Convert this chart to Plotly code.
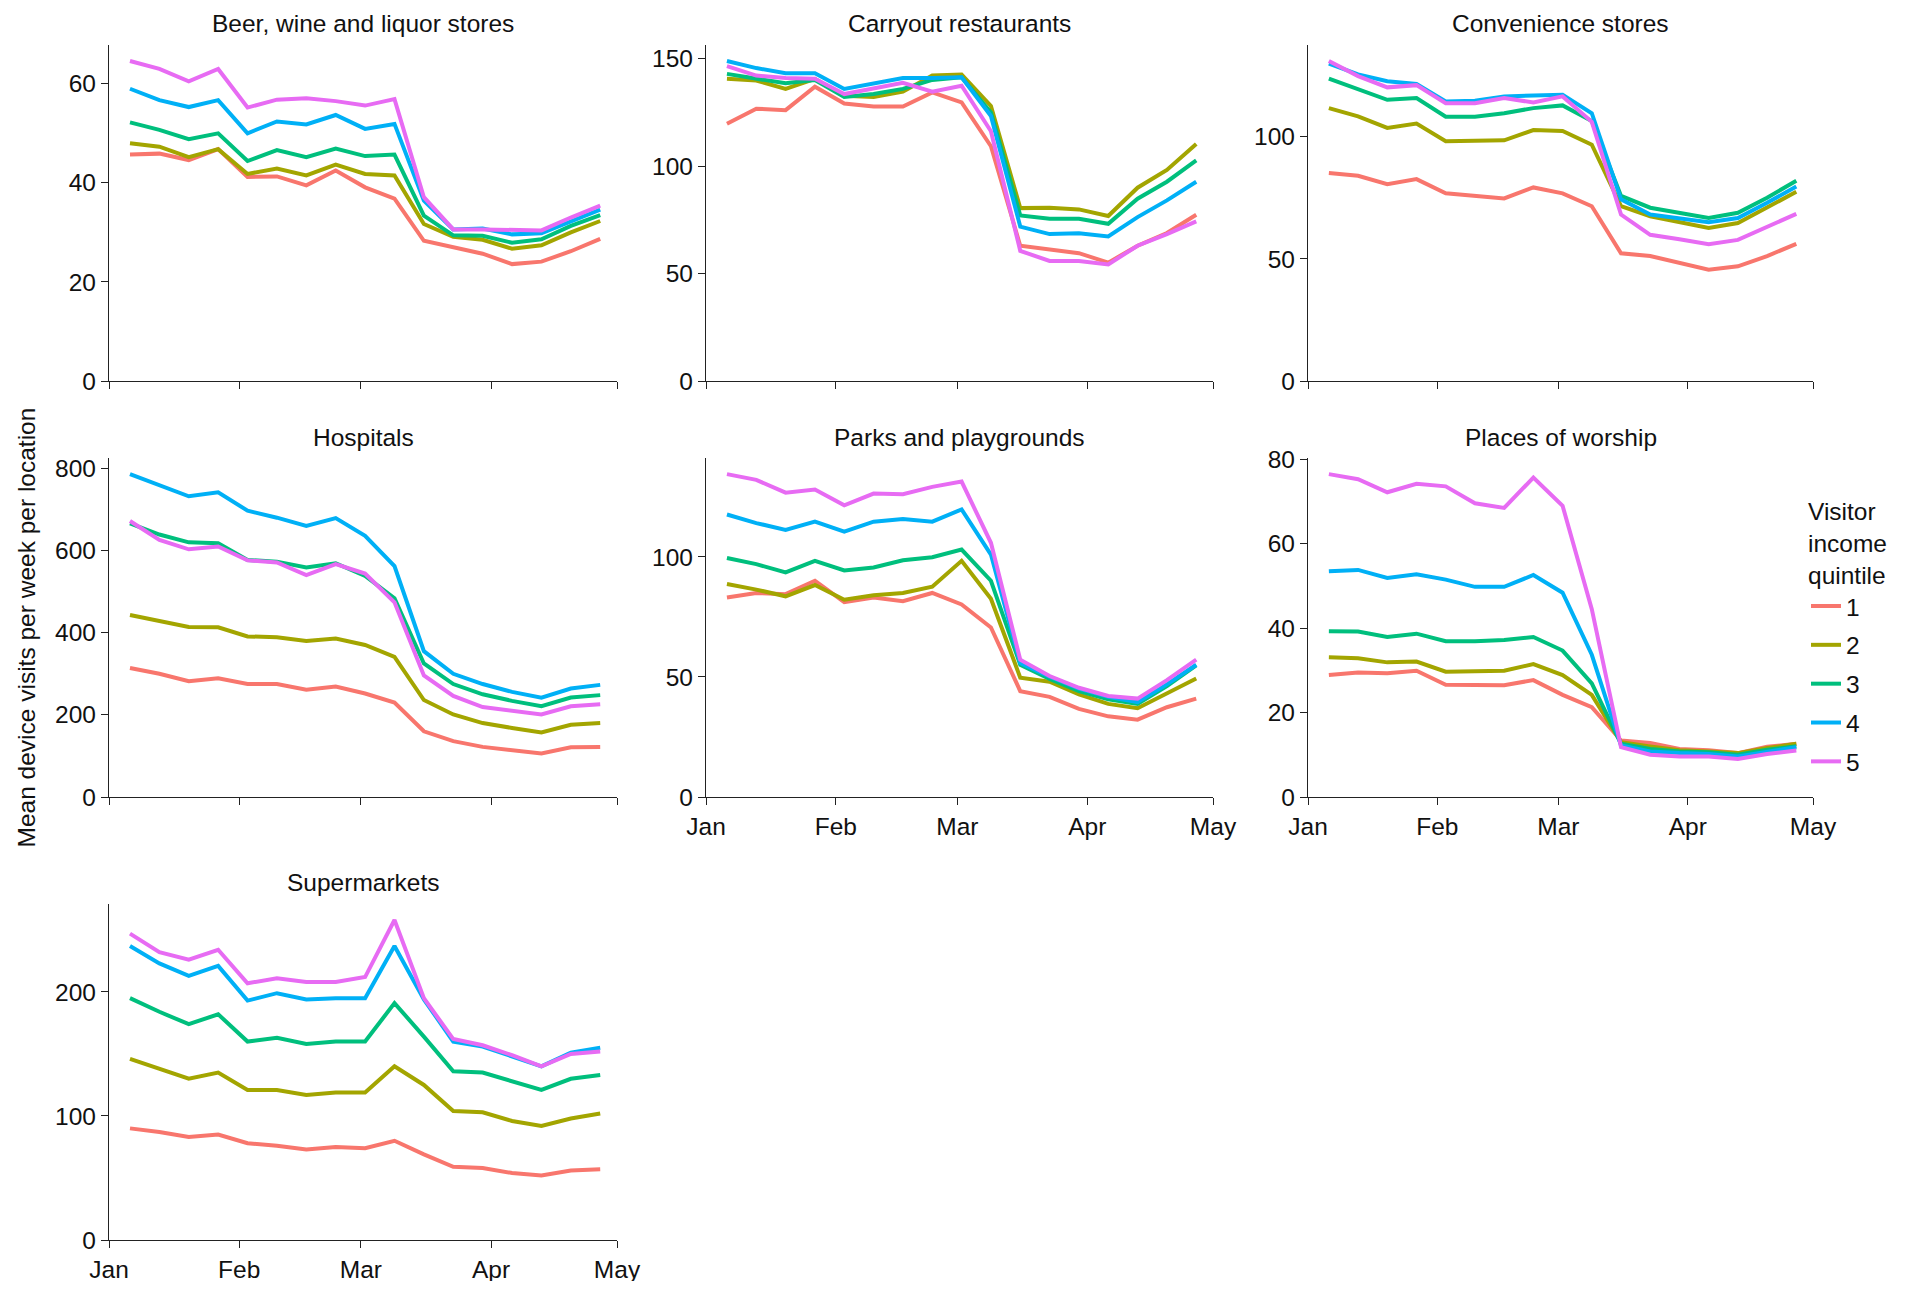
import plotly.graph_objects as go

weeks = ["2020-01-06", "2020-01-13", "2020-01-20", "2020-01-27", "2020-02-03",
         "2020-02-10", "2020-02-17", "2020-02-24", "2020-03-02", "2020-03-09",
         "2020-03-16", "2020-03-23", "2020-03-30", "2020-04-06", "2020-04-13",
         "2020-04-20", "2020-04-27"]
quintiles = ["1", "2", "3", "4", "5"]
colors = ["#F8766D", "#A3A500", "#00BF7D", "#00B0F6", "#E76BF3"]
month_ticks = ["2020-01-01", "2020-02-01", "2020-03-01", "2020-04-01", "2020-05-01"]
month_labels = ["Jan", "Feb", "Mar", "Apr", "May"]

panel_titles = ["Beer, wine and liquor stores", "Carryout restaurants", "Convenience stores",
                "Hospitals", "Parks and playgrounds", "Places of worship", "Supermarkets"]

# each: quintile 1..5
beer = [
    [45.7, 45.9, 44.6, 46.8, 41.2, 41.3, 39.5, 42.5, 39.1, 36.8, 28.3, 26.9, 25.7, 23.6, 24.1, 26.2, 28.7],
    [48.0, 47.3, 45.2, 46.8, 41.8, 42.9, 41.5, 43.7, 41.8, 41.5, 31.7, 29.1, 28.5, 26.7, 27.4, 30.0, 32.3],
    [52.2, 50.7, 48.8, 50.0, 44.4, 46.6, 45.2, 46.9, 45.4, 45.7, 33.4, 29.4, 29.3, 27.9, 28.6, 31.3, 33.5],
    [59.0, 56.7, 55.3, 56.7, 50.0, 52.4, 51.8, 53.7, 50.9, 51.9, 36.4, 30.6, 30.8, 29.6, 29.8, 32.3, 34.6],
    [64.6, 63.0, 60.5, 63.0, 55.2, 56.8, 57.1, 56.5, 55.6, 56.9, 37.1, 30.6, 30.6, 30.4, 30.4, 33.0, 35.4],
]
carryout = [
    [119.8, 126.8, 126.1, 137.0, 129.2, 127.8, 127.8, 134.4, 129.7, 109.3, 63.0, 61.1, 59.5, 55.1, 63.0, 68.9, 77.4],
    [140.7, 139.9, 136.0, 140.7, 132.8, 132.3, 134.7, 142.2, 142.7, 128.1, 80.5, 80.7, 79.9, 76.8, 90.0, 98.3, 110.4],
    [143.0, 141.0, 138.6, 140.2, 132.3, 133.6, 136.0, 140.2, 141.4, 125.0, 77.1, 75.5, 75.5, 73.2, 84.9, 92.8, 102.7],
    [149.0, 145.7, 143.3, 143.3, 136.0, 138.6, 141.1, 141.1, 141.4, 123.4, 71.9, 68.4, 68.8, 67.3, 76.3, 84.1, 92.8],
    [146.6, 142.2, 141.1, 140.7, 133.6, 136.0, 138.8, 134.7, 137.5, 116.3, 60.6, 55.9, 55.9, 54.3, 63.0, 68.4, 74.3],
]
convenience = [
    [85.2, 84.1, 80.6, 82.7, 76.9, 75.8, 74.8, 79.3, 76.9, 71.6, 52.3, 51.2, 48.4, 45.6, 47.0, 51.2, 56.2],
    [111.8, 108.4, 103.7, 105.5, 98.2, 98.2, 98.6, 102.8, 102.4, 96.8, 71.6, 67.5, 65.0, 62.7, 64.7, 71.0, 77.5],
    [123.9, 119.4, 115.2, 115.9, 108.3, 108.3, 109.7, 111.8, 112.9, 106.5, 75.8, 71.0, 68.9, 66.8, 68.9, 75.1, 82.0],
    [130.0, 125.6, 122.8, 121.7, 114.5, 114.8, 116.6, 117.0, 117.3, 109.7, 74.4, 68.2, 66.8, 65.0, 66.8, 73.0, 79.7],
    [131.1, 124.9, 120.3, 121.2, 113.8, 113.8, 115.9, 114.1, 116.6, 106.2, 68.2, 59.9, 58.1, 56.0, 57.8, 63.3, 68.5],
]
hospitals = [
    [314, 300, 282, 289, 275, 275, 261, 269, 252, 230, 160, 136, 122, 114, 106, 121, 122],
    [443, 428, 414, 413, 391, 389, 380, 386, 370, 341, 236, 201, 180, 168, 157, 176, 180],
    [666, 639, 620, 618, 577, 573, 559, 569, 538, 484, 325, 275, 250, 234, 221, 242, 248],
    [786, 759, 732, 742, 697, 680, 660, 679, 636, 562, 355, 300, 275, 256, 242, 264, 273],
    [672, 626, 603, 610, 576, 571, 540, 567, 544, 474, 296, 246, 219, 209, 201, 221, 226],
]
parks = [
    [83.1, 85.0, 84.5, 90.1, 81.2, 83.1, 81.6, 85.0, 80.2, 70.6, 44.1, 41.7, 36.7, 33.6, 32.2, 37.4, 41.0],
    [88.7, 86.4, 83.6, 88.3, 82.2, 84.0, 85.0, 87.6, 98.4, 82.6, 49.7, 48.0, 42.7, 38.8, 37.0, 43.1, 49.4],
    [99.6, 97.0, 93.6, 98.4, 94.4, 95.6, 98.6, 99.9, 103.1, 90.1, 55.1, 49.2, 44.1, 40.7, 38.8, 46.2, 54.8],
    [117.7, 114.1, 111.3, 114.7, 110.5, 114.7, 115.8, 114.7, 119.8, 101.0, 55.8, 50.1, 45.2, 41.7, 39.5, 46.9, 55.1],
    [134.5, 132.1, 126.8, 128.1, 121.5, 126.4, 126.1, 129.2, 131.4, 105.9, 57.2, 50.4, 45.5, 42.1, 41.0, 48.7, 57.2],
]
worship = [
    [28.9, 29.5, 29.3, 29.9, 26.6, 26.6, 26.5, 27.7, 24.2, 21.3, 13.4, 12.8, 11.4, 11.1, 10.4, 11.9, 12.6],
    [33.1, 32.9, 31.9, 32.1, 29.7, 29.9, 29.9, 31.5, 28.9, 24.2, 13.0, 12.0, 11.1, 10.8, 10.4, 11.6, 12.6],
    [39.3, 39.2, 37.9, 38.7, 36.9, 36.9, 37.2, 37.9, 34.7, 26.9, 12.6, 11.4, 10.8, 10.6, 10.0, 11.2, 12.0],
    [53.5, 53.8, 51.9, 52.8, 51.5, 49.8, 49.8, 52.6, 48.4, 33.7, 12.2, 10.8, 10.4, 10.2, 9.6, 10.8, 11.8],
    [76.5, 75.3, 72.2, 74.2, 73.6, 69.6, 68.5, 75.7, 69.0, 44.5, 11.8, 10.0, 9.6, 9.6, 9.0, 10.2, 11.0],
]
supermarkets = [
    [90, 87, 83, 85, 78, 76, 73, 75, 74, 80, 69, 59, 58, 54, 52, 56, 57],
    [146, 138, 130, 135, 121, 121, 117, 119, 119, 140, 125, 104, 103, 96, 92, 98, 102],
    [195, 184, 174, 182, 160, 163, 158, 160, 160, 191, 164, 136, 135, 128, 121, 130, 133],
    [237, 223, 213, 221, 193, 199, 194, 195, 195, 237, 194, 160, 156, 148, 140, 151, 155],
    [247, 232, 226, 234, 207, 211, 208, 208, 212, 258, 195, 162, 157, 149, 140, 150, 152],
]

panel_data = [beer, carryout, convenience, hospitals, parks, worship, supermarkets]
y_dticks = [20, 50, 50, 200, 50, 20, 100]

# page is 1920x1289 with an 8px body margin around the figure
OFF = 8
W, H = 1920 - 2 * OFF, 1289 - 2 * OFF


def px_x(p):
    return (p - OFF) / W


def px_y(p):
    return 1 - (p - OFF) / H


col_px = [(109, 617), (706, 1213), (1308, 1813)]
row_px = [(45, 381), (458, 797), (904, 1240)]
title_px = [23, 438, 882]
positions = [(0, 0), (0, 1), (0, 2), (1, 0), (1, 1), (1, 2), (2, 0)]
show_xlabels = [False, False, False, False, True, True, True]

FONT = "Liberation Sans, Arial, Helvetica, sans-serif"
FS = 24.5
fig = go.Figure()
annotations = []
layout_axes = {}

for i, (data, (r, c)) in enumerate(zip(panel_data, positions)):
    n = i + 1
    xa = "x" if n == 1 else f"x{n}"
    ya = "y" if n == 1 else f"y{n}"
    for q in range(5):
        fig.add_trace(go.Scatter(
            x=weeks, y=data[q], mode="lines", name=quintiles[q],
            line=dict(color=colors[q], width=4),
            xaxis=xa, yaxis=ya, showlegend=(i == 0), legendgroup=quintiles[q],
        ))
    ymax = max(max(s) for s in data) * 1.05
    x0, x1 = col_px[c]
    y0, y1 = row_px[r]
    axis_common = dict(showline=True, linecolor="#222222", linewidth=1.2, showgrid=False,
                       zeroline=False, ticks="outside", ticklen=7, tickwidth=1.2,
                       tickcolor="#222222", automargin=False,
                       tickfont=dict(family=FONT, size=FS, color="#111111"))
    layout_axes["xaxis" if n == 1 else f"xaxis{n}"] = dict(
        domain=[px_x(x0), px_x(x1)], anchor=ya, type="date",
        range=["2020-01-01", "2020-05-01"], tickvals=month_ticks, ticktext=month_labels,
        showticklabels=show_xlabels[i], **axis_common)
    layout_axes["yaxis" if n == 1 else f"yaxis{n}"] = dict(
        domain=[px_y(y1), px_y(y0)], anchor=xa, range=[0, ymax],
        tick0=0, dtick=y_dticks[i], **axis_common)
    annotations.append(dict(text=panel_titles[i], x=px_x((x0 + x1) / 2), y=px_y(title_px[r]),
                            xref="paper", yref="paper", showarrow=False, xanchor="center",
                            yanchor="middle", font=dict(family=FONT, size=FS, color="#111111")))

annotations.append(dict(text="Mean device visits per week per location", x=px_x(10), y=px_y(628),
                        xref="paper", yref="paper", showarrow=False, textangle=-90,
                        xanchor="left", yanchor="middle",
                        font=dict(family=FONT, size=FS, color="#111111")))

fig.update_layout(
    width=W, height=H, margin=dict(l=0, r=0, t=0, b=0, autoexpand=False),
    paper_bgcolor="white", plot_bgcolor="white",
    font=dict(family=FONT, size=FS, color="#111111"),
    annotations=annotations,
    legend=dict(title=dict(text="Visitor<br>income<br>quintile", font=dict(family=FONT, size=FS)),
                x=px_x(1806), y=px_y(488), xanchor="left", yanchor="top",
                font=dict(family=FONT, size=FS), itemwidth=30, bgcolor="rgba(0,0,0,0)",
                traceorder="grouped", tracegroupgap=4),
    **layout_axes,
)

fig.write_html("out.html")
